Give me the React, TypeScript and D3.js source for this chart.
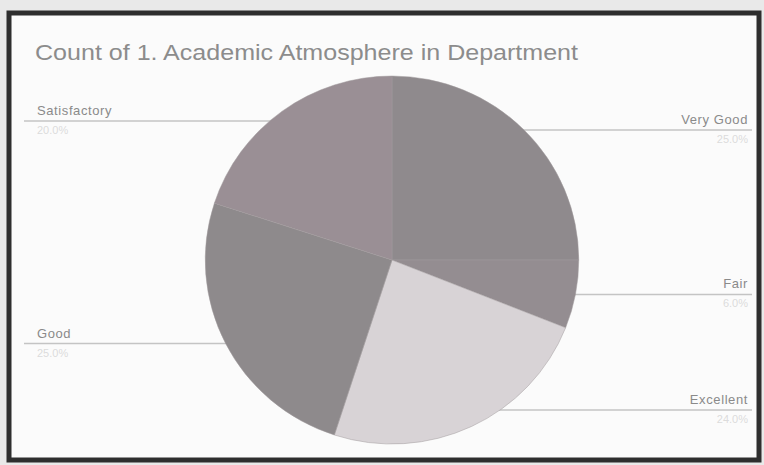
import React from "react";
import * as d3 from "d3";

const title = "Count of 1. Academic Atmosphere in Department";
const categories = ["Very Good", "Fair", "Excellent", "Good", "Satisfactory"];
const counts = [25, 6, 24, 25, 20];
const colors = ["#8f8a8d", "#948d91", "#d8d3d6", "#8e8a8c", "#9a8f95"];

const W = 764;
const H = 465;
const cx = 392;
const cy = 260;
const r = 184;

export default function App() {
  const total = d3.sum(counts);
  const pie = d3.pie<number>().sort(null).value((d) => d)(counts);
  const arc = d3.arc<d3.PieArcDatum<number>>().innerRadius(0).outerRadius(r);
  const pct = d3.format(".1%");

  const labels = pie.map((p, i) => {
    const mid = (p.startAngle + p.endAngle) / 2;
    const right = Math.sin(mid) >= 0;
    let y = cy - r * Math.cos(mid);
    y = Math.max(121, Math.min(410, y));
    const dy = y - cy;
    const edge = Math.sqrt(Math.max(0, r * r - dy * dy));
    const xEdge = right ? cx + edge : cx - edge;
    const xEnd = right ? 752 : 24;
    return { i, y, right, xEdge, xEnd, mid };
  });

  const font = "Liberation Sans, Arial, sans-serif";

  return (
    <div style={{ position: "fixed", left: 0, top: 0 }}>
      <svg width={W} height={H} style={{ display: "block" }}>
        <rect x={0} y={0} width={W} height={H} fill="#e9e9e9" />
        <rect x={9} y={13} width={750} height={447} fill="#fbfbfb" stroke="#2e2e2e" strokeWidth={5} />
        <text
          x={35}
          y={60}
          fontFamily={font}
          fontSize={22}
          fill="#8c8c8c"
          textLength={543}
          lengthAdjust="spacingAndGlyphs"
        >
          {title}
        </text>
        {labels.map((l) => (
          <g key={"l" + l.i}>
            <line x1={l.xEnd} x2={l.xEdge} y1={l.y} y2={l.y} stroke="#c4c4c4" strokeWidth={1.5} />
            <text
              x={l.right ? l.xEnd - 4 : l.xEnd + 13}
              y={l.y - 6}
              textAnchor={l.right ? "end" : "start"}
              fontFamily={font}
              fontSize={13}
              letterSpacing={0.6}
              fill="#8a8a8a"
            >
              {categories[l.i]}
            </text>
            <text
              x={l.right ? l.xEnd - 4 : l.xEnd + 13}
              y={l.y + 13}
              textAnchor={l.right ? "end" : "start"}
              fontFamily={font}
              fontSize={11}
              fill="#dcdcdc"
            >
              {pct(counts[l.i] / total)}
            </text>
          </g>
        ))}
        <g transform={`translate(${cx},${cy}) scale(1.015,1)`}>
          {pie.map((p, i) => (
            <path key={i} d={arc(p) || ""} fill={colors[i]} stroke="#a09a9d" strokeWidth={0.5} />
          ))}
        </g>
      </svg>
    </div>
  );
}
